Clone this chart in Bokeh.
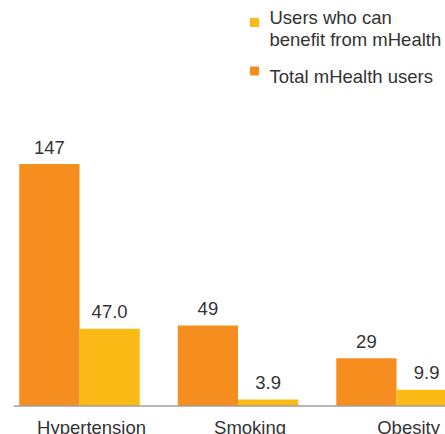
from bokeh.plotting import figure
from bokeh.models import ColumnDataSource, Range1d, Label, BoxAnnotation, Span
from bokeh.core.properties import value
from bokeh.embed import file_html
from bokeh.resources import INLINE

categories = ["Hypertension", "Smoking", "Obesity"]
total_users = [147, 49, 29]
benefit_users = [47.0, 3.9, 9.9]
total_labels = ["147", "49", "29"]
benefit_labels = ["47.0", "3.9", "9.9"]
series_names = ["Users who can\nbenefit from mHealth", "Total mHealth users"]

ORANGE = "#F68E1F"
YELLOW = "#FBBA16"
TEXT = "#333333"
FONT = "Liberation Sans"

bar_w = 0.38
idx = list(range(len(categories)))

src_total = ColumnDataSource(dict(
    x=[i - bar_w / 2 for i in idx], top=total_users, lab=total_labels))
src_benefit = ColumnDataSource(dict(
    x=[i + bar_w / 2 for i in idx], top=benefit_users, lab=benefit_labels))
src_cat = ColumnDataSource(dict(x=[i + 0.076 for i in idx], y=[0] * len(idx), lab=categories))

W, H = 445, 434
p = figure(width=W, height=H, output_backend="svg", toolbar_location=None,
           x_range=Range1d(-0.4164, 2.309), y_range=Range1d(-17.3, 246.4),
           min_border_left=13, min_border_right=0, min_border_top=0, min_border_bottom=0)
p.axis.visible = False
p.grid.visible = False
p.outline_line_color = None
p.background_fill_color = "white"

p.vbar(x="x", top="top", width=bar_w, bottom=0, source=src_total, color=ORANGE, line_color=None)
p.vbar(x="x", top="top", width=bar_w, bottom=0, source=src_benefit, color=YELLOW, line_color=None)

p.add_layout(Span(location=0, dimension="width", line_color="#A39E99", line_width=1.5))

for s in (src_total, src_benefit):
    p.text(x="x", y="top", text="lab", source=s, text_align="center", text_baseline="alphabetic",
           y_offset=-17, text_font=value(FONT), text_font_size="18.5px", text_color=TEXT)

p.text(x="x", y="y", text="lab", source=src_cat, text_align="center", text_baseline="alphabetic",
       y_offset=21, text_font=value(FONT), text_font_size="18.5px", text_color=TEXT)

# legend (frame-relative screen units, origin bottom-left)
def sy(page_y):
    return H - page_y
def sx(page_x):
    return page_x - 13

for col, top_y in ((YELLOW, 17.5), (ORANGE, 66)):
    p.add_layout(BoxAnnotation(left=sx(249.5), right=sx(258.5), top=sy(top_y), bottom=sy(top_y + 9),
                               left_units="screen", right_units="screen", top_units="screen",
                               bottom_units="screen", fill_color=col, fill_alpha=1, line_color=None))

p.add_layout(Label(x=sx(269), y=sy(28), x_units="screen", y_units="screen", text=series_names[0],
                   text_font=FONT, text_font_size="18.5px", text_color=TEXT, text_baseline="alphabetic",
                   text_line_height=1.05))
p.add_layout(Label(x=sx(269), y=sy(76), x_units="screen", y_units="screen", text=series_names[1],
                   text_font=FONT, text_font_size="18.5px", text_color=TEXT, text_baseline="alphabetic"))

open("out.html", "w").write(file_html(p, INLINE))
